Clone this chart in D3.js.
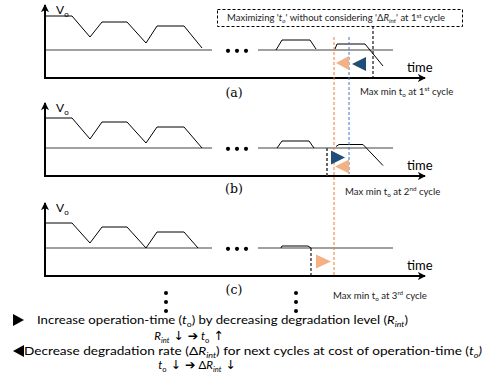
<!DOCTYPE html>
<html><head><meta charset="utf-8">
<script src="https://cdn.jsdelivr.net/npm/d3@7/dist/d3.min.js"></script>
<style>body{margin:0;background:#fff}svg{display:block}</style>
</head><body>
<svg id="chart" width="500" height="390"></svg>
<script>
// ---------- data ----------
const panelLabels = ["(a)", "(b)", "(c)"];
const cycleNumbers = ["1", "2", "3"];
const cycleOrdinals = ["st", "nd", "rd"];
// early cycles: time vs voltage above cut-off (arbitrary units)
const earlyTimesA = [0, 27, 45, 57, 82, 101, 112, 139, 157];
const earlyVoltsA = [34, 34, 13, 28, 28, 7, 24, 24, 2];
const earlyTimesB = [0, 27, 45, 57, 82, 101, 112, 139, 157];
const earlyVoltsB = [30, 30, 9, 26, 26, 5, 21, 21, 0];
const earlyTimesC = [0, 27, 45, 57, 82, 101, 112, 139, 153];
const earlyVoltsC = [25, 25, 5, 21, 21, 0, 16, 16, 0];
// late cycles (after the ellipsis)
const latePulseTimesA = [[231, 237, 265, 271], [290, 292, 320, 338]];
const latePulseVoltsA = [[0, 10, 10, 1], [1, 6, 6, -16]];
const latePulseTimesB = [[232, 237, 264, 269], [291, 294, 318, 338]];
const latePulseVoltsB = [[0, 7, 7, 0], [1.5, 3.5, 3.5, -17.5]];
const latePulseTimesC = [[236, 237, 263, 266]];
const latePulseVoltsC = [[0, 2, 2, 0]];
const thresholdSpans = [[0, 167], [213, 348]];
const ellipsisTimes = [183, 192, 201];
const cutoffTimes = [328, 282, 266];
const orangeLineTime = 289;
const blueLineTime = 304;
// triangles: panel, colour key, direction, start time, end time, voltage centre
const triPanels = [0, 0, 1, 1, 2];
const triColors = ["peach", "navy", "navy", "peach", "peach"];
const triDirs = ["left", "left", "right", "left", "right"];
const triStart = [291, 307, 286, 290, 271];
const triEnd = [304, 321, 300, 304, 286];
const triVolt = [-13, -14, -9.5, -18.5, -13.5];

// ---------- layout ----------
const svg = d3.select("#chart");
const axisYs = [78, 176, 276];
const x = d3.scaleLinear().domain([0, 380]).range([45, 425]);
const yFor = i => d3.scaleLinear().domain([-28, 0]).range([axisYs[i], axisYs[i] - 28]);
const FONT = "Lato, 'Liberation Sans', sans-serif";
const colors = { peach: "#F4B183", navy: "#1F4E79", orange: "#ED7D31", blue: "#4472C4" };

const defs = svg.append("defs");
defs.append("marker").attr("id", "arr").attr("viewBox", "0 -5 10 10")
  .attr("refX", 8).attr("refY", 0).attr("markerWidth", 4.5).attr("markerHeight", 4.5)
  .attr("markerUnits", "strokeWidth").attr("orient", "auto")
  .append("path").attr("d", "M0,-4.5 L9,0 L0,4.5 L2.5,0 Z").attr("fill", "#000");

function rich(sel, parts, size) {
  let shift = 0;
  sel.style("font-size", size + "px");
  parts.forEach(p => {
    const target = p.sub ? size * 0.22 : p.sup ? -size * 0.38 : 0;
    const fs = p.size ? p.size : (p.sub || p.sup) ? size * 0.66 : size;
    const ts = sel.append("tspan").attr("dy", target - shift)
      .style("font-size", fs + "px")
      .text(p.t);
    if (p.it) ts.style("font-style", "italic");
    if (p.bold) ts.style("font-weight", "bold");
    if (p.font) ts.style("font-family", p.font);
    shift = target;
  });
}

const earlyT = [earlyTimesA, earlyTimesB, earlyTimesC];
const earlyV = [earlyVoltsA, earlyVoltsB, earlyVoltsC];
const lateT = [latePulseTimesA, latePulseTimesB, latePulseTimesC];
const lateV = [latePulseVoltsA, latePulseVoltsB, latePulseVoltsC];

const maxMinCentre = [14, 16, 20];
const maxMinStart = [360, 345, 333];
const labelCentre = [14, 12, 13];

panelLabels.forEach((lab, i) => {
  const y = yFor(i);
  const g = svg.append("g");
  const ay = axisYs[i];
  thresholdSpans.forEach(s => {
    g.append("line").attr("x1", x(s[0])).attr("x2", x(s[1]))
      .attr("y1", y(0)).attr("y2", y(0)).attr("stroke", "#808080").attr("stroke-width", 1.3);
  });
  const line = d3.line().x(d => x(d[0])).y(d => y(d[1]));
  g.append("path").attr("d", line(earlyT[i].map((t, k) => [t, earlyV[i][k]])))
    .attr("fill", "none").attr("stroke", "#000").attr("stroke-width", 1);
  lateT[i].forEach((ts, p) => {
    g.append("path").attr("d", line(ts.map((t, k) => [t, lateV[i][p][k]])))
      .attr("fill", "none").attr("stroke", "#000").attr("stroke-width", 1);
  });
  g.selectAll("circle.el").data(ellipsisTimes).enter().append("circle")
    .attr("cx", d => x(d)).attr("cy", y(-0.8)).attr("r", 2.1).attr("fill", "#000");
  // axes
  g.append("line").attr("x1", x(0)).attr("x2", x(0)).attr("y1", ay + 1).attr("y2", ay - 73)
    .attr("stroke", "#000").attr("stroke-width", 2).attr("marker-end", "url(#arr)");
  g.append("line").attr("x1", x(0) - 1).attr("x2", x(380)).attr("y1", ay).attr("y2", ay)
    .attr("stroke", "#000").attr("stroke-width", 2).attr("marker-end", "url(#arr)");
  // Vo label
  const vt = g.append("text").attr("x", 56).attr("y", ay - 64)
    .style("font-family", FONT).style("fill", "#000");
  rich(vt, [{ t: "V" }, { t: "o", sub: true }], 12);
  // time label
  g.append("text").attr("x", 407).attr("y", ay - 6).style("font-family", FONT)
    .style("font-size", "13px").text("time");
  // panel label
  g.append("text").attr("x", 234).attr("y", ay + labelCentre[i] + 4.5).attr("text-anchor", "middle")
    .style("font-family", "'DejaVu Serif', serif").style("font-size", "12.5px").text(lab);
  // max min label
  const mt = g.append("text").attr("x", maxMinStart[i]).attr("y", ay + maxMinCentre[i] + 3)
    .style("font-family", FONT).style("fill", "#222");
  rich(mt, [{ t: "Max min t" }, { t: "o", sub: true }, { t: " at " + cycleNumbers[i] },
    { t: cycleOrdinals[i], sup: true }, { t: " cycle" }], 9.6);
});

// cut-off dashed lines
[0, 1, 2].forEach(i => {
  const y = yFor(i);
  const top = i === 0 ? 26 : y(0);
  svg.append("line").attr("x1", x(cutoffTimes[i])).attr("x2", x(cutoffTimes[i]))
    .attr("y1", top).attr("y2", axisYs[i])
    .attr("stroke", i === 1 ? "#404040" : "#000").attr("stroke-width", i === 1 ? 1.6 : 1.1)
    .attr("stroke-dasharray", "3,2");
});

// vertical reference lines
svg.append("line").attr("x1", x(orangeLineTime)).attr("x2", x(orangeLineTime))
  .attr("y1", 37).attr("y2", axisYs[2]).attr("stroke", colors.orange).attr("stroke-width", 1)
  .attr("stroke-dasharray", "3,2");
svg.append("line").attr("x1", x(blueLineTime)).attr("x2", x(blueLineTime))
  .attr("y1", 37).attr("y2", axisYs[1] - 2).attr("stroke", colors.blue).attr("stroke-width", 1)
  .attr("stroke-dasharray", "3,2");

// triangles
triPanels.forEach((p, k) => {
  const y = yFor(p);
  const x0 = x(triStart[k]), x1 = x(triEnd[k]), yc = y(triVolt[k]);
  const h = 7;
  const pts = triDirs[k] === "left"
    ? [[x0, yc], [x1, yc - h], [x1, yc + h]]
    : [[x0, yc - h], [x0, yc + h], [x1, yc]];
  svg.append("path").attr("d", "M" + pts.join("L") + "Z").attr("fill", colors[triColors[k]]);
});

// dashed box (a)
svg.append("rect").attr("x", 217.5).attr("y", 9.5).attr("width", 245).attr("height", 17)
  .attr("fill", "#fff").attr("stroke", "#000").attr("stroke-width", 1).attr("stroke-dasharray", "3,2");
const bt = svg.append("text").attr("x", 227).attr("y", 21)
  .style("font-family", FONT).style("fill", "#222").attr("textLength", 218).attr("lengthAdjust", "spacingAndGlyphs");
rich(bt, [{ t: "Maximizing '" }, { t: "t", it: true }, { t: "o", sub: true, it: true },
  { t: "' without considering 'Δ" }, { t: "R", it: true }, { t: "int", sub: true, it: true },
  { t: "' at 1" }, { t: "st", sup: true }, { t: " cycle" }], 8.8);

// vertical ellipsis below (c)
const vDots = [293, 302, 311];
[166, 296].forEach(cx => {
  svg.selectAll(null).data(vDots).enter().append("circle")
    .attr("cx", cx).attr("cy", d => d).attr("r", 2).attr("fill", "#000");
});

// legend lines
svg.append("path").attr("d", "M13,314L13,326L24,320Z").attr("fill", "#000");
svg.append("path").attr("d", "M24,345L24,357L13,351Z").attr("fill", "#000");
const LS = 11.5;
const AR = "'DejaVu Sans', sans-serif";
const l1 = svg.append("text").attr("x", 37).attr("y", 324).style("font-family", FONT)
  .attr("textLength", 371).attr("lengthAdjust", "spacingAndGlyphs");
rich(l1, [{ t: "Increase operation-time (" }, { t: "t", it: true }, { t: "o", sub: true },
  { t: ") by decreasing degradation level (" }, { t: "R", it: true }, { t: "int", sub: true, it: true },
  { t: ")" }], LS);
const l2 = svg.append("text").attr("x", 189).attr("y", 340).attr("text-anchor", "middle").style("font-family", FONT);
rich(l2, [{ t: "R", it: true }, { t: "int", sub: true, it: true }, { t: " ↓ ", font: AR, size: 12.5 },
  { t: "➔", font: AR, size: 12.5, bold: true }, { t: "  t", it: true }, { t: "o", sub: true }, { t: " ↑", font: AR, size: 12.5 }], LS);
const l3 = svg.append("text").attr("x", 24).attr("y", 355).style("font-family", FONT)
  .attr("textLength", 458).attr("lengthAdjust", "spacingAndGlyphs");
rich(l3, [{ t: "Decrease degradation rate (Δ" }, { t: "R", it: true }, { t: "int", sub: true, it: true },
  { t: ") for next cycles at cost of operation-time (" }, { t: "t", it: true }, { t: "o", sub: true, it: true },
  { t: ")", it: true }], LS);
const l4 = svg.append("text").attr("x", 197).attr("y", 369).attr("text-anchor", "middle").style("font-family", FONT);
rich(l4, [{ t: "t", it: true }, { t: "o", sub: true }, { t: " ↓ ", font: AR, size: 12.5 },
  { t: "➔", font: AR, size: 12.5, bold: true }, { t: "   Δ" }, { t: "R", it: true }, { t: "int", sub: true, it: true },
  { t: " ↓", font: AR, size: 12.5 }], LS);
</script>
</body></html>
